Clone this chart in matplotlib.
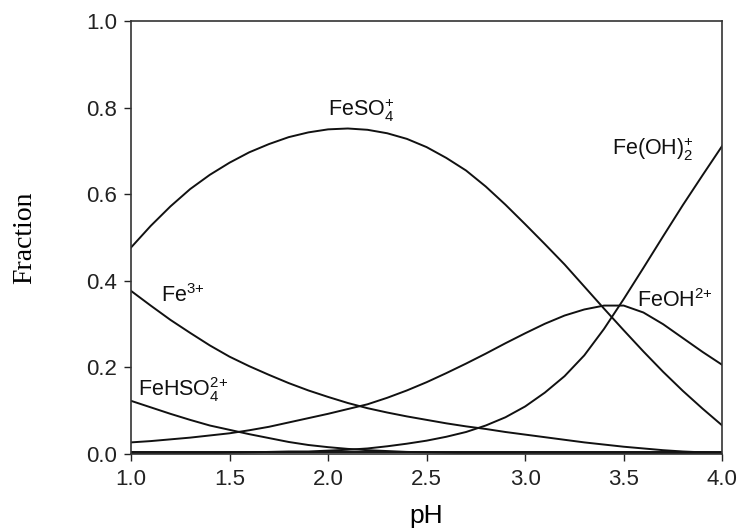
import numpy as np
import matplotlib
matplotlib.use("Agg")
import matplotlib.pyplot as plt

plt.rcParams['font.family'] = ['Liberation Sans', 'DejaVu Sans']
plt.rcParams['mathtext.fontset'] = 'custom'
plt.rcParams['mathtext.rm'] = 'Liberation Sans'
plt.rcParams['mathtext.it'] = 'Liberation Sans'
plt.rcParams['mathtext.default'] = 'regular'

# Speciation of Fe(III) versus pH
ph = [1.0, 1.1, 1.2, 1.3, 1.4, 1.5, 1.6, 1.7, 1.8, 1.9, 2.0,
      2.1, 2.2, 2.3, 2.4, 2.5, 2.6, 2.7, 2.8, 2.9, 3.0,
      3.1, 3.2, 3.3, 3.4, 3.5, 3.6, 3.7, 3.8, 3.9, 4.0]

feso4 = [0.477, 0.527, 0.572, 0.612, 0.645, 0.673, 0.697, 0.716, 0.732, 0.743, 0.750,
         0.752, 0.749, 0.741, 0.728, 0.709, 0.684, 0.655, 0.618, 0.576, 0.531,
         0.485, 0.438, 0.387, 0.336, 0.286, 0.237, 0.190, 0.146, 0.105, 0.066]

feoh = [0.027, 0.030, 0.034, 0.038, 0.043, 0.048, 0.055, 0.063, 0.073, 0.083, 0.093,
        0.104, 0.115, 0.130, 0.147, 0.166, 0.187, 0.209, 0.232, 0.256, 0.279,
        0.301, 0.320, 0.334, 0.343, 0.343, 0.327, 0.300, 0.268, 0.236, 0.206]

fe3 = [0.377, 0.343, 0.310, 0.280, 0.251, 0.225, 0.203, 0.183, 0.164, 0.147, 0.132,
       0.118, 0.106, 0.096, 0.087, 0.079, 0.071, 0.064, 0.058, 0.051, 0.045,
       0.039, 0.033, 0.027, 0.022, 0.017, 0.013, 0.009, 0.006, 0.004, 0.002]

fehso4 = [0.123, 0.108, 0.093, 0.079, 0.066, 0.056, 0.046, 0.037, 0.028, 0.021, 0.016,
          0.012, 0.009, 0.007, 0.005, 0.004, 0.003, 0.002, 0.002, 0.002, 0.001,
          0.001, 0.001, 0.001, 0.001, 0.001, 0.001, 0.001, 0.001, 0.001, 0.001]

feoh2 = [0.001, 0.001, 0.001, 0.002, 0.002, 0.003, 0.004, 0.005, 0.006, 0.006, 0.008,
         0.010, 0.013, 0.018, 0.024, 0.031, 0.040, 0.051, 0.066, 0.085, 0.110,
         0.142, 0.180, 0.228, 0.289, 0.358, 0.430, 0.503, 0.575, 0.644, 0.712]

minor = [0.004] * len(ph)

x_ticks = [1.0, 1.5, 2.0, 2.5, 3.0, 3.5, 4.0]
y_ticks = [0.0, 0.2, 0.4, 0.6, 0.8, 1.0]

fig = plt.figure(figsize=(7.40, 5.28), dpi=100)
ax = fig.add_axes([0.177, 0.140, 0.799, 0.820])

for series in (feso4, feoh, fe3, fehso4, feoh2, minor):
    ax.plot(ph, series, color='#111111', lw=1.4)

ax.set_xlim(1.0, 4.0)
ax.set_ylim(0.0, 1.0)
ax.set_xticks(x_ticks)
ax.set_yticks(y_ticks)
ax.set_xticklabels([f"{v:.1f}" for v in x_ticks])
ax.set_yticklabels([f"{v:.1f}" for v in y_ticks])
ax.tick_params(direction='out', length=5, width=1.0, labelsize=16, colors='#222222')
ax.tick_params(axis='x', pad=6)
ax.tick_params(axis='y', pad=5)
for s in ax.spines.values():
    s.set_linewidth(1.2)
    s.set_color('#333333')

ax.set_xlabel('pH', fontsize=19)
ax.xaxis.set_label_coords(0.5, -0.142)
ax.xaxis.label.set_va('center')
ax.set_ylabel('Fraction', fontsize=20, family=['Liberation Serif', 'DejaVu Serif'])
ax.yaxis.set_label_coords(-0.179, 0.5)
ax.yaxis.label.set_va('center')

lab_kw = dict(fontsize=15.5, ha='left', va='baseline', color='#111111')
ax.text(2.00, 0.782, r'FeSO$_4^{+}$', **lab_kw)
ax.text(3.44, 0.690, r'Fe(OH)$_2^{+}$', **lab_kw)
ax.text(3.57, 0.340, r'FeOH$^{2{+}}$', **lab_kw)
ax.text(1.15, 0.352, r'Fe$^{3{+}}$', **lab_kw)
ax.text(1.035, 0.134, r'FeHSO$_4^{2{+}}$', **lab_kw)

fig.savefig('out.png', dpi=100)
